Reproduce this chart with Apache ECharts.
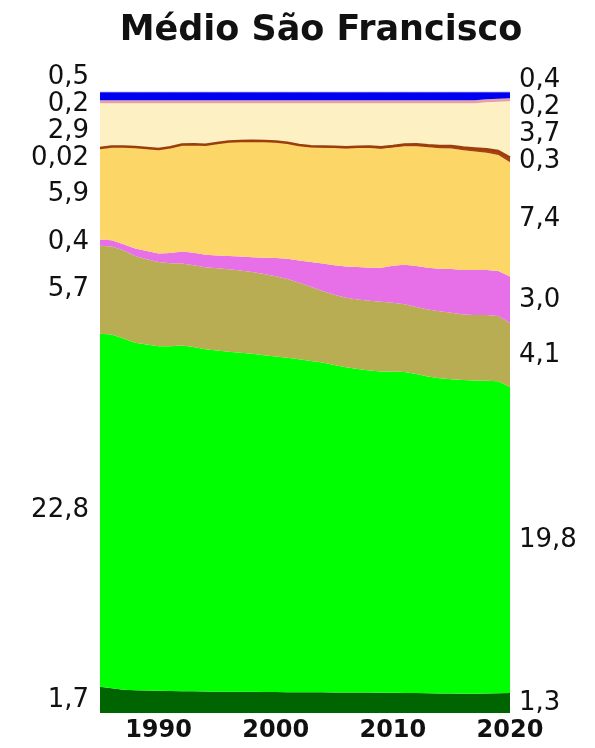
<!DOCTYPE html>
<html>
<head>
<meta charset="UTF-8">
<title>Médio São Francisco</title>
<script src="https://cdn.jsdelivr.net/npm/echarts@6/dist/echarts.min.js"></script>
<style>
  html, body { margin: 0; padding: 0; background: #fff; }
  #main { width: 595px; height: 748px; }
</style>
</head>
<body>
<div id="main"></div>
<script>
var years = [];
for (var y = 1985; y <= 2020; y++) years.push(String(y));

// layers, bottom to top, one value per year 1985..2020
var darkGreen = [1.7, 1.6, 1.5, 1.47, 1.45, 1.44, 1.42, 1.41, 1.4, 1.39, 1.38, 1.38, 1.37, 1.37, 1.36, 1.36, 1.35, 1.35, 1.34, 1.34, 1.33, 1.33, 1.32, 1.32, 1.31, 1.31, 1.3, 1.29, 1.28, 1.27, 1.26, 1.25, 1.25, 1.26, 1.28, 1.3];
var green = [22.85, 22.9, 22.75, 22.5, 22.4, 22.3, 22.32, 22.38, 22.3, 22.15, 22.08, 22.0, 21.95, 21.88, 21.8, 21.72, 21.65, 21.55, 21.45, 21.35, 21.2, 21.05, 20.95, 20.85, 20.8, 20.8, 20.78, 20.65, 20.5, 20.4, 20.35, 20.3, 20.28, 20.25, 20.2, 19.8];
var olive = [5.7, 5.7, 5.7, 5.62, 5.52, 5.45, 5.38, 5.3, 5.29, 5.31, 5.33, 5.34, 5.33, 5.3, 5.26, 5.2, 5.1, 4.95, 4.8, 4.62, 4.55, 4.5, 4.5, 4.51, 4.52, 4.45, 4.38, 4.35, 4.34, 4.33, 4.3, 4.25, 4.24, 4.26, 4.22, 4.15];
var magenta = [0.4, 0.4, 0.4, 0.48, 0.54, 0.55, 0.65, 0.78, 0.8, 0.81, 0.83, 0.86, 0.9, 0.96, 1.05, 1.18, 1.3, 1.45, 1.6, 1.78, 1.9, 2.03, 2.1, 2.15, 2.2, 2.4, 2.55, 2.65, 2.7, 2.76, 2.83, 2.88, 2.9, 2.9, 2.92, 3.0];
var orange = [5.9, 6.05, 6.3, 6.55, 6.65, 6.75, 6.82, 6.9, 7.0, 7.1, 7.25, 7.38, 7.45, 7.5, 7.52, 7.5, 7.47, 7.43, 7.45, 7.52, 7.6, 7.65, 7.7, 7.75, 7.7, 7.65, 7.68, 7.75, 7.8, 7.8, 7.8, 7.75, 7.68, 7.6, 7.5, 7.4];
var brown = [0.02, 0.02, 0.02, 0.02, 0.02, 0.02, 0.03, 0.03, 0.03, 0.03, 0.03, 0.03, 0.03, 0.03, 0.04, 0.04, 0.04, 0.04, 0.05, 0.06, 0.07, 0.07, 0.08, 0.09, 0.1, 0.1, 0.11, 0.12, 0.13, 0.14, 0.16, 0.18, 0.2, 0.22, 0.26, 0.3];
var yellow = [2.9, 2.8, 2.8, 2.83, 2.89, 2.96, 2.85, 2.67, 2.65, 2.68, 2.57, 2.48, 2.44, 2.43, 2.44, 2.47, 2.56, 2.7, 2.78, 2.8, 2.82, 2.84, 2.82, 2.8, 2.84, 2.76, 2.67, 2.66, 2.72, 2.77, 2.77, 2.86, 2.92, 3.04, 3.19, 3.65];
var pink = [0.2, 0.2, 0.2, 0.2, 0.2, 0.2, 0.2, 0.2, 0.2, 0.2, 0.2, 0.2, 0.2, 0.2, 0.2, 0.2, 0.2, 0.2, 0.2, 0.2, 0.2, 0.2, 0.2, 0.2, 0.2, 0.2, 0.2, 0.2, 0.2, 0.2, 0.2, 0.2, 0.2, 0.2, 0.2, 0.2];
var blue = [0.53, 0.53, 0.53, 0.53, 0.53, 0.53, 0.53, 0.53, 0.53, 0.53, 0.53, 0.53, 0.53, 0.53, 0.53, 0.53, 0.53, 0.53, 0.53, 0.53, 0.53, 0.53, 0.53, 0.53, 0.53, 0.53, 0.53, 0.53, 0.53, 0.53, 0.53, 0.53, 0.53, 0.47, 0.43, 0.4];

var leftLabels = ['1,7', '22,8', '5,7', '0,4', '5,9', '0,02', '2,9', '0,2', '0,5'];
var rightLabels = ['1,3', '19,8', '4,1', '3,0', '7,4', '0,3', '3,7', '0,2', '0,4'];

var layers = [darkGreen, green, olive, magenta, orange, brown, yellow, pink, blue];
var colors = ['#006400', '#00ff00', '#b8ad52', '#e76fe8', '#fdd668', '#a6440e', '#fdf0c2', '#e7a1a6', '#0000f0'];

var chart = echarts.init(document.getElementById('main'));

var series = layers.map(function (arr, k) {
    var s = {
        type: 'line',
        stack: 'total',
        symbol: 'none',
        lineStyle: { width: 0 },
        areaStyle: { color: colors[k], opacity: 1 },
        data: arr
    };
    if (k === 5) {
        s.z = 3;
        s.lineStyle = { width: 2.5, color: '#9b3d0c' };
    }
    if (k === 8) {
        s.lineStyle = { width: 1, color: '#8c8cff' };
    }
    return s;
});

chart.setOption({
    animation: false,
    title: {
        text: 'Médio São Francisco',
        left: 316,
        textAlign: 'center',
        top: 8,
        textStyle: { fontFamily: 'DejaVu Sans', fontWeight: 'bold', fontSize: 35, color: '#111' }
    },
    grid: { left: 100, right: 85, top: 92, bottom: 35 },
    xAxis: {
        type: 'category',
        boundaryGap: false,
        data: years,
        axisLine: { show: false },
        axisTick: { show: false },
        splitLine: { show: false },
        axisLabel: {
            margin: 6,
            interval: function (i, v) { return Number(v) % 10 === 0; },
            fontFamily: 'DejaVu Sans',
            fontWeight: 'bold',
            fontSize: 24,
            color: '#111'
        }
    },
    yAxis: {
        type: 'value',
        min: 0,
        max: 40.2,
        show: false
    },
    series: series
});

// side labels at the middle of each layer, spread apart where they crowd
function sideLabels(idx, texts, align, x) {
    var ys = [];
    var cum = 0;
    for (var k = 0; k < layers.length; k++) {
        var v = layers[k][idx];
        ys.push(chart.convertToPixel({ gridIndex: 0 }, [idx, cum + v / 2])[1]);
        cum += v;
    }
    var gap = 27;
    for (var it = 0; it < 300; it++) {
        for (var j = 0; j < ys.length - 1; j++) {
            var d = ys[j] - ys[j + 1];
            if (d < gap) {
                var s = (gap - d) / 2;
                ys[j] += s;
                ys[j + 1] -= s;
            }
        }
    }
    return texts.map(function (txt, j) {
        return {
            type: 'text',
            x: x,
            y: ys[j],
            style: {
                text: txt,
                align: align,
                verticalAlign: 'middle',
                font: '26px "DejaVu Sans"',
                fill: '#111'
            }
        };
    });
}

chart.setOption({
    graphic: sideLabels(0, leftLabels, 'right', 89).concat(sideLabels(years.length - 1, rightLabels, 'left', 519))
});
</script>
</body>
</html>
